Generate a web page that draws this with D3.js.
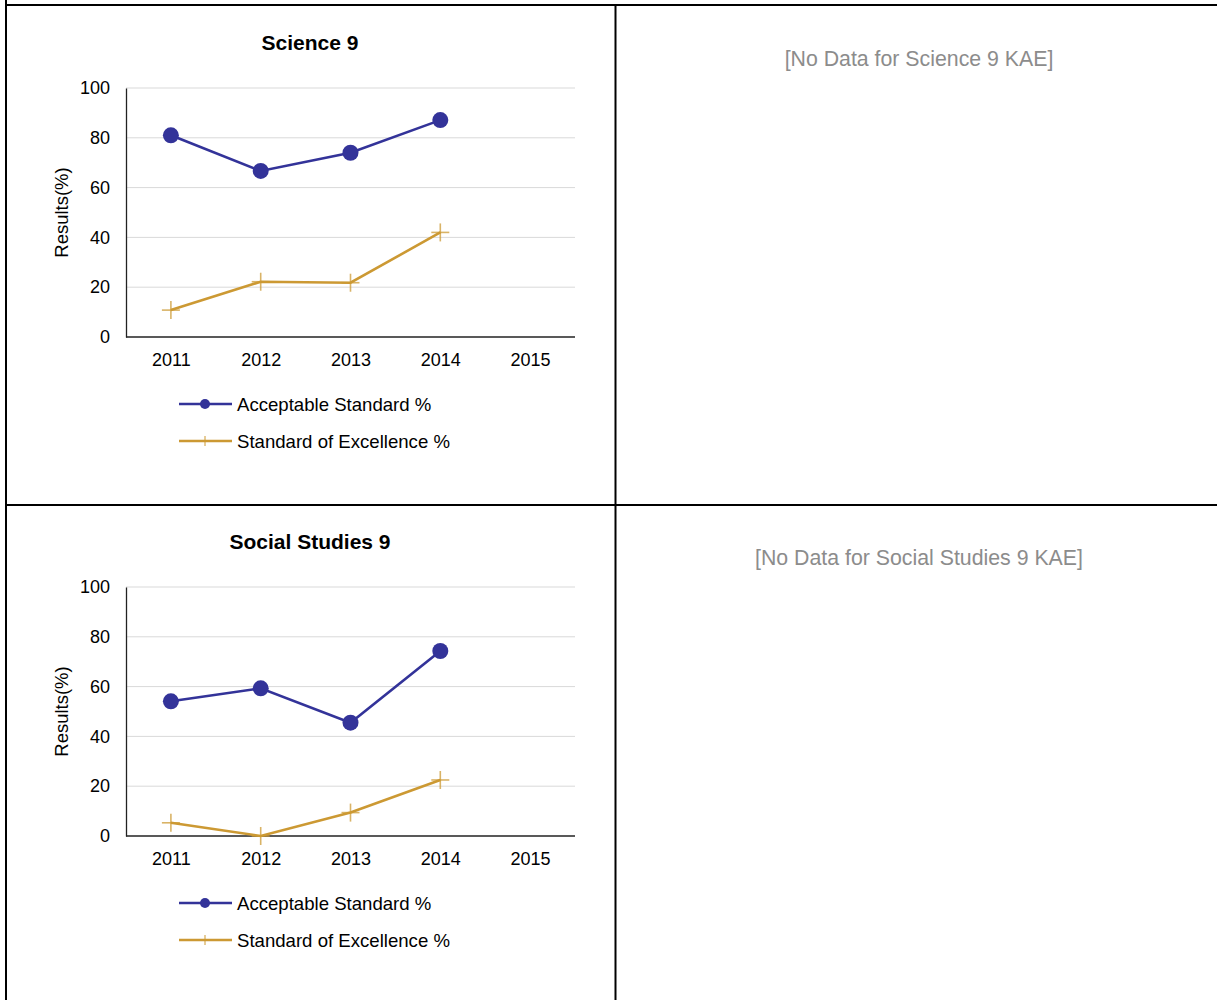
<!DOCTYPE html>
<html>
<head>
<meta charset="utf-8">
<script src="https://cdn.jsdelivr.net/npm/d3@7"></script>
<style>
  html, body { margin: 0; padding: 0; background: #fff; }
  svg { display: block; font-family: "Liberation Sans", Arial, sans-serif; }
</style>
</head>
<body>
<svg id="chart" width="1217" height="1000"></svg>
<script>
// School results by year, two subjects
const years = ["2011", "2012", "2013", "2014", "2015"];
const yTicks = [0, 20, 40, 60, 80, 100];
const seriesNames = ["Acceptable Standard %", "Standard of Excellence %"];

const science9Acceptable = [81.0, 66.7, 74.0, 87.1, null];
const science9Excellence = [10.8, 22.2, 21.8, 42.0, null];

const social9Acceptable = [54.1, 59.3, 45.5, 74.3, null];
const social9Excellence = [5.3, 0.0, 9.4, 22.5, null];

const panels = [
  { title: "Science 9", acceptable: science9Acceptable, excellence: science9Excellence,
    noData: "[No Data for Science 9 KAE]" },
  { title: "Social Studies 9", acceptable: social9Acceptable, excellence: social9Excellence,
    noData: "[No Data for Social Studies 9 KAE]" }
];

const BLUE = "#333399";
const GOLD = "#CC9933";
const FONT = "'Liberation Sans', Arial, sans-serif";

const svg = d3.select("#chart");

// Table grid lines
const grid = svg.append("g").attr("stroke", "#000").attr("stroke-width", 2);
grid.append("line").attr("x1", 6).attr("x2", 1217).attr("y1", 5).attr("y2", 5);
grid.append("line").attr("x1", 6).attr("x2", 1217).attr("y1", 505).attr("y2", 505);
grid.append("line").attr("x1", 6).attr("x2", 6).attr("y1", 0).attr("y2", 1000);
grid.append("line").attr("x1", 615.5).attr("x2", 615.5).attr("y1", 5).attr("y2", 1000);

const plotLeft = 126, plotRight = 575;

function drawPanel(p, top) {
  const g = svg.append("g").attr("transform", `translate(0,${top})`);
  const y0 = 337, y1 = 88;

  const x = d3.scalePoint().domain(years).range([plotLeft, plotRight]).padding(0.5);
  const y = d3.scaleLinear().domain([0, 100]).range([y0, y1]);

  g.append("text")
    .attr("x", 310).attr("y", 50)
    .attr("text-anchor", "middle")
    .attr("font-size", 21).attr("font-weight", "bold")
    .attr("fill", "#000")
    .text(p.title);

  // horizontal gridlines
  g.append("g")
    .selectAll("line")
    .data(yTicks.filter(d => d > 0))
    .join("line")
    .attr("x1", plotLeft).attr("x2", plotRight)
    .attr("y1", d => y(d)).attr("y2", d => y(d))
    .attr("stroke", "#d9d9d9").attr("stroke-width", 1);

  // y axis
  const yAxis = g.append("g")
    .attr("transform", `translate(${plotLeft},0)`)
    .call(d3.axisLeft(y).tickValues(yTicks).tickSize(0).tickPadding(16));
  yAxis.select(".domain").attr("stroke", "#222").attr("stroke-width", 1.3);
  yAxis.selectAll("text")
    .attr("font-size", 18).attr("fill", "#000")
    .attr("font-family", FONT);

  // x axis
  const xAxis = g.append("g")
    .attr("transform", `translate(0,${y0})`)
    .call(d3.axisBottom(x).tickSize(0).tickPadding(16));
  xAxis.select(".domain").attr("stroke", "#222").attr("stroke-width", 1.3)
    .attr("d", `M${plotLeft},0H${plotRight}`);
  xAxis.selectAll("text")
    .attr("font-size", 18).attr("fill", "#000")
    .attr("font-family", FONT);

  // y-axis title
  g.append("text")
    .attr("transform", `translate(68,${(y0 + y1) / 2}) rotate(-90)`)
    .attr("text-anchor", "middle")
    .attr("font-size", 18.5).attr("fill", "#000")
    .text("Results(%)");

  const line = d3.line()
    .defined(d => d.v != null)
    .x(d => x(d.year))
    .y(d => y(d.v));

  const acc = years.map((yr, i) => ({ year: yr, v: p.acceptable[i] }));
  const exc = years.map((yr, i) => ({ year: yr, v: p.excellence[i] }));

  // Standard of Excellence line with plus markers
  g.append("path").datum(exc)
    .attr("d", line).attr("fill", "none")
    .attr("stroke", GOLD).attr("stroke-width", 2.6);
  const plus = g.append("g").selectAll("g")
    .data(exc.filter(d => d.v != null))
    .join("g")
    .attr("transform", d => `translate(${x(d.year)},${y(d.v)})`)
    .attr("stroke", GOLD).attr("stroke-opacity", 0.75).attr("stroke-width", 1.6);
  plus.append("line").attr("x1", -9).attr("x2", 9);
  plus.append("line").attr("y1", -9).attr("y2", 9);

  // Acceptable Standard line with circle markers
  g.append("path").datum(acc)
    .attr("d", line).attr("fill", "none")
    .attr("stroke", BLUE).attr("stroke-width", 2.6);
  g.append("g").selectAll("circle")
    .data(acc.filter(d => d.v != null))
    .join("circle")
    .attr("cx", d => x(d.year)).attr("cy", d => y(d.v))
    .attr("r", 8).attr("fill", BLUE);

  // legend
  const lg = g.append("g");
  const rows = [
    { name: seriesNames[0], color: BLUE, marker: "circle", yy: 404 },
    { name: seriesNames[1], color: GOLD, marker: "plus", yy: 441 }
  ];
  rows.forEach(r => {
    lg.append("line").attr("x1", 179).attr("x2", 232)
      .attr("y1", r.yy).attr("y2", r.yy)
      .attr("stroke", r.color).attr("stroke-width", 2.6);
    if (r.marker === "circle") {
      lg.append("circle").attr("cx", 205).attr("cy", r.yy).attr("r", 5).attr("fill", r.color);
    } else {
      lg.append("line").attr("x1", 205).attr("x2", 205)
        .attr("y1", r.yy - 5).attr("y2", r.yy + 5)
        .attr("stroke", r.color).attr("stroke-width", 1);
    }
    lg.append("text").attr("x", 237).attr("y", r.yy + 6.5)
      .attr("font-size", 18.6).attr("fill", "#000")
      .text(r.name);
  });

  // empty KAE column
  g.append("text")
    .attr("x", 919).attr("y", 66)
    .attr("text-anchor", "middle")
    .attr("font-size", 21.3).attr("fill", "#8c8c8c")
    .text(p.noData);
}

drawPanel(panels[0], 0);
drawPanel(panels[1], 499);
</script>
</body>
</html>
